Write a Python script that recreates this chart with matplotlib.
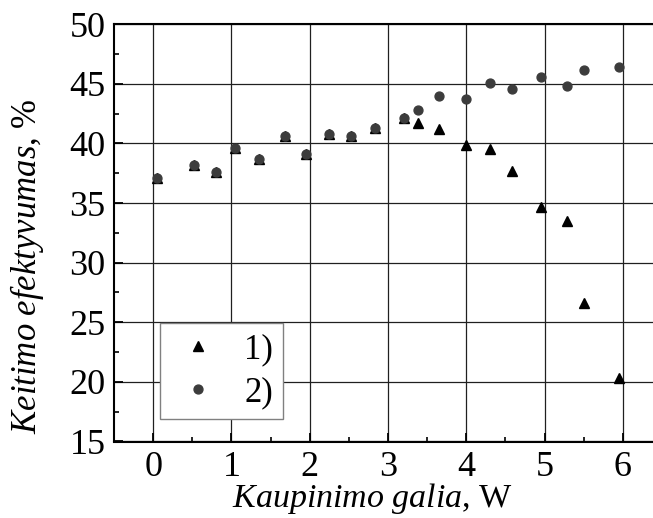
import matplotlib
matplotlib.use("Agg")
from matplotlib import pyplot as plt
from matplotlib.ticker import MultipleLocator

plt.rcParams['font.family'] = 'Liberation Serif'
plt.rcParams['mathtext.fontset'] = 'custom'
plt.rcParams['mathtext.rm'] = 'Liberation Serif'
plt.rcParams['mathtext.it'] = 'Liberation Serif:italic'

# series 1) triangles
P1 = [0.05, 0.52, 0.80, 1.05, 1.35, 1.68, 1.95, 2.25, 2.53, 2.84,
      3.20, 3.38, 3.65, 4.00, 4.30, 4.59, 4.95, 5.29, 5.50, 5.95]
EFF1 = [37.1, 38.2, 37.6, 39.6, 38.7, 40.6, 39.1, 40.8, 40.6, 41.3,
        42.1, 41.7, 41.2, 39.9, 39.5, 37.7, 34.7, 33.5, 26.6, 20.3]
# series 2) circles
P2 = P1
EFF2 = [37.1, 38.2, 37.6, 39.6, 38.7, 40.6, 39.1, 40.8, 40.6, 41.3,
        42.1, 42.8, 44.0, 43.7, 45.1, 44.6, 45.6, 44.8, 46.2, 46.4]

W, H = 653, 518
fig = plt.figure(figsize=(W / 100, H / 100), dpi=100)
# axes runs a bit past the right edge of the picture
ax = fig.add_axes([114 / W, (H - 441.5) / H, 548 / W, 417.2 / H])

ax.plot(P1, EFF1, linestyle='none', marker='^', ms=7.8, color='black', label='1)', zorder=3)
ax.plot(P2, EFF2, linestyle='none', marker='o', ms=6.4, color='#3c3c3c', label='2)', zorder=4)

ax.set_xlim(-0.5, 6.5)
ax.set_ylim(15, 50)
ax.xaxis.set_major_locator(MultipleLocator(1))
ax.xaxis.set_minor_locator(MultipleLocator(0.5))
ax.yaxis.set_major_locator(MultipleLocator(5))
ax.yaxis.set_minor_locator(MultipleLocator(2.5))
ax.grid(True, which='major', color='#202020', linewidth=0.9)
ax.set_axisbelow(True)

ax.tick_params(which='both', direction='in', labelsize=26, top=False, right=False)
ax.tick_params(axis='x', pad=6.5)
ax.tick_params(axis='y', pad=6)
ax.tick_params(which='major', length=6.3, width=1.3)
ax.tick_params(which='minor', length=3.4, width=1.2)
for s in ax.spines.values():
    s.set_linewidth(1.5)

ax.set_xlabel(r'$\mathit{Kaupinimo\ galia}$, W', fontsize=24.5)
ax.set_ylabel(r'$\mathit{Keitimo\ efektyvumas}$, %', fontsize=25)
ax.xaxis.set_label_coords((372.5 - 114) / 548, -0.094)
ax.yaxis.set_label_coords(-0.124, 0.42)

leg = ax.legend(loc='lower left', bbox_to_anchor=((160 - 114) / 548, (441.5 - 419.3) / 417.2),
                borderaxespad=0, fontsize=25, numpoints=1, handlelength=1.65,
                handletextpad=0.5, borderpad=0.28, labelspacing=0.3,
                fancybox=False, framealpha=1)
leg.get_frame().set_edgecolor('#808080')
leg.get_frame().set_linewidth(1.0)

plt.savefig("out.png", dpi=100)
